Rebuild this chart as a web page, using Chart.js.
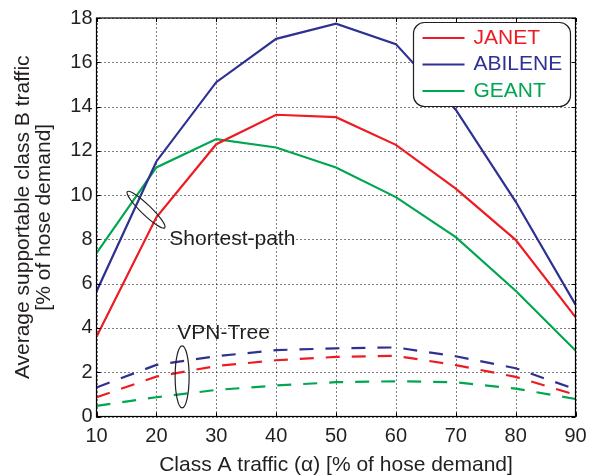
<!DOCTYPE html>
<html>
<head>
<meta charset="utf-8">
<script src="https://cdn.jsdelivr.net/npm/chart.js@4/dist/chart.umd.min.js"></script>
<style>
  html, body { margin: 0; padding: 0; background: #fff; }
</style>
</head>
<body>
<canvas id="chart" width="589" height="475"></canvas>
<script>
// class A traffic (alpha), % of hose demand
const classA = [10, 20, 30, 40, 50, 60, 70, 80, 90];

// shortest-path routing (solid)
const janetSP = [3.6, 9.0, 12.3, 13.63, 13.52, 12.27, 10.29, 7.98, 4.49];
const abileneSP = [5.65, 11.52, 15.1, 17.06, 17.74, 16.82, 13.86, 9.71, 5.05];
const geantSP = [7.38, 11.25, 12.53, 12.15, 11.25, 9.91, 8.1, 5.68, 2.98];

// VPN-tree routing (dashed)
const janetVPN = [0.87, 1.8, 2.28, 2.54, 2.69, 2.74, 2.32, 1.79, 0.98];
const abileneVPN = [1.31, 2.33, 2.72, 3.0, 3.08, 3.12, 2.72, 2.18, 1.23];
const geantVPN = [0.48, 0.87, 1.2, 1.4, 1.55, 1.59, 1.55, 1.26, 0.79];

const yTicks = [0, 2, 4, 6, 8, 10, 12, 14, 16, 18];

const FONT = "'Liberation Sans', Arial, Helvetica, sans-serif";
const INK = '#231f20';
const RED = '#ed1c24';
const BLUE = '#2e3192';
const GREEN = '#00a651';

const toPoints = (arr) => classA.map((x, i) => ({ x: x, y: arr[i] }));

function series(label, arr, color, dashed) {
	return {
		label: label,
		data: toPoints(arr),
		borderColor: color,
		backgroundColor: color,
		borderWidth: 2.2,
		borderDash: dashed ? [14, 12] : [],
		pointRadius: 0,
		tension: 0,
		fill: false,
		inLegend: !dashed,
	};
}

// dotted grid under the lines, matlab style
const dottedGrid = {
	id: 'dottedGrid',
	beforeDatasetsDraw(chart) {
		const { ctx, chartArea: a, scales: { x, y } } = chart;
		ctx.save();
		ctx.strokeStyle = '#000';
		ctx.lineWidth = 1;
		ctx.setLineDash([1, 3]);
		classA.forEach((v) => {
			const px = Math.round(x.getPixelForValue(v)) + 0.5;
			ctx.beginPath();
			ctx.moveTo(px, a.bottom);
			ctx.lineTo(px, a.top);
			ctx.stroke();
		});
		yTicks.forEach((v) => {
			const py = Math.round(y.getPixelForValue(v)) + 0.5;
			ctx.beginPath();
			ctx.moveTo(a.left, py);
			ctx.lineTo(a.right, py);
			ctx.stroke();
		});
		ctx.restore();
	},
};

// box, ticks, ellipses, labels, legend
const decorations = {
	id: 'decorations',
	afterDraw(chart) {
		const { ctx, chartArea: a, scales: { x, y } } = chart;
		ctx.save();

		ctx.strokeStyle = '#000';
		ctx.lineWidth = 1.2;
		ctx.setLineDash([]);
		ctx.strokeRect(a.left, a.top, a.right - a.left, a.bottom - a.top);
		ctx.lineWidth = 1;
		ctx.beginPath();
		classA.forEach((v) => {
			const px = Math.round(x.getPixelForValue(v)) + 0.5;
			ctx.moveTo(px, a.bottom); ctx.lineTo(px, a.bottom - 4);
			ctx.moveTo(px, a.top); ctx.lineTo(px, a.top + 4);
		});
		yTicks.forEach((v) => {
			const py = Math.round(y.getPixelForValue(v)) + 0.5;
			ctx.moveTo(a.left, py); ctx.lineTo(a.left + 4, py);
			ctx.moveTo(a.right, py); ctx.lineTo(a.right - 4, py);
		});
		ctx.stroke();

		ctx.strokeStyle = INK;
		ctx.lineWidth = 1.2;
		ctx.beginPath();
		ctx.ellipse(x.getPixelForValue(18.27), y.getPixelForValue(9.34), 26, 5, 44 * Math.PI / 180, 0, Math.PI * 2);
		ctx.stroke();
		ctx.beginPath();
		ctx.ellipse(x.getPixelForValue(24.3), y.getPixelForValue(1.79), 7, 31, 0, 0, Math.PI * 2);
		ctx.stroke();

		ctx.fillStyle = INK;
		ctx.font = '21px ' + FONT;
		ctx.textBaseline = 'middle';
		ctx.textAlign = 'left';
		ctx.fillText('Shortest-path', x.getPixelForValue(22.16), y.getPixelForValue(8));
		ctx.fillText('VPN-Tree', x.getPixelForValue(23.5), y.getPixelForValue(3.77));

		// legend
		const bw = 157, bh = 84, r = 11;
		const bx = a.right - 5 - bw, by = a.top + 4.5;
		ctx.beginPath();
		ctx.roundRect(bx, by, bw, bh, r);
		ctx.fillStyle = '#fff';
		ctx.fill();
		ctx.strokeStyle = INK;
		ctx.lineWidth = 1.2;
		ctx.stroke();

		const items = chart.data.datasets.filter((d) => d.inLegend);
		items.forEach((d, i) => {
			const cy = by + 15.5 + i * 26.5;
			ctx.strokeStyle = d.borderColor;
			ctx.lineWidth = 2.2;
			ctx.beginPath();
			ctx.moveTo(bx + 9, cy);
			ctx.lineTo(bx + 51, cy);
			ctx.stroke();
			ctx.fillStyle = d.borderColor;
			ctx.fillText(d.label, bx + 60, cy);
		});

		ctx.restore();
	},
};

new Chart(document.getElementById('chart').getContext('2d'), {
	type: 'line',
	data: {
		datasets: [
			series('JANET', janetSP, RED, false),
			series('ABILENE', abileneSP, BLUE, false),
			series('GEANT', geantSP, GREEN, false),
			series('JANET VPN-Tree', janetVPN, RED, true),
			series('ABILENE VPN-Tree', abileneVPN, BLUE, true),
			series('GEANT VPN-Tree', geantVPN, GREEN, true),
		],
	},
	options: {
		responsive: false,
		animation: false,
		devicePixelRatio: 1,
		layout: { padding: { left: 0, top: 18, right: 13.5, bottom: 0 } },
		plugins: {
			legend: { display: false },
			tooltip: { enabled: false },
		},
		scales: {
			x: {
				type: 'linear',
				min: 10,
				max: 90,
				afterFit: (s) => { s.height = 58.5; s.paddingLeft = 0; s.paddingRight = 0; },
				afterBuildTicks: (s) => { s.ticks = classA.map((v) => ({ value: v })); },
				ticks: { color: INK, font: { family: FONT, size: 20 }, padding: 8, maxRotation: 0 },
				grid: { display: false, drawTicks: false },
				border: { display: false },
				title: {
					display: true,
					text: 'Class A traffic (\u03b1) [% of hose demand]',
					color: INK,
					font: { family: FONT, size: 21, lineHeight: 1 },
					padding: { top: 0, bottom: -1 },
				},
			},
			y: {
				min: 0,
				max: 18,
				afterFit: (s) => { s.width = 96.5; },
				afterBuildTicks: (s) => { s.ticks = yTicks.map((v) => ({ value: v })); },
				ticks: { color: INK, font: { family: FONT, size: 20 }, padding: 4 },
				grid: { display: false, drawTicks: false },
				border: { display: false },
				title: {
					display: true,
					text: ['Average supportable class B traffic', '[% of hose demand]'],
					color: INK,
					font: { family: FONT, size: 21, lineHeight: 1 },
					padding: { top: 13, bottom: 0 },
				},
			},
		},
	},
	plugins: [dottedGrid, decorations],
});
</script>
</body>
</html>
